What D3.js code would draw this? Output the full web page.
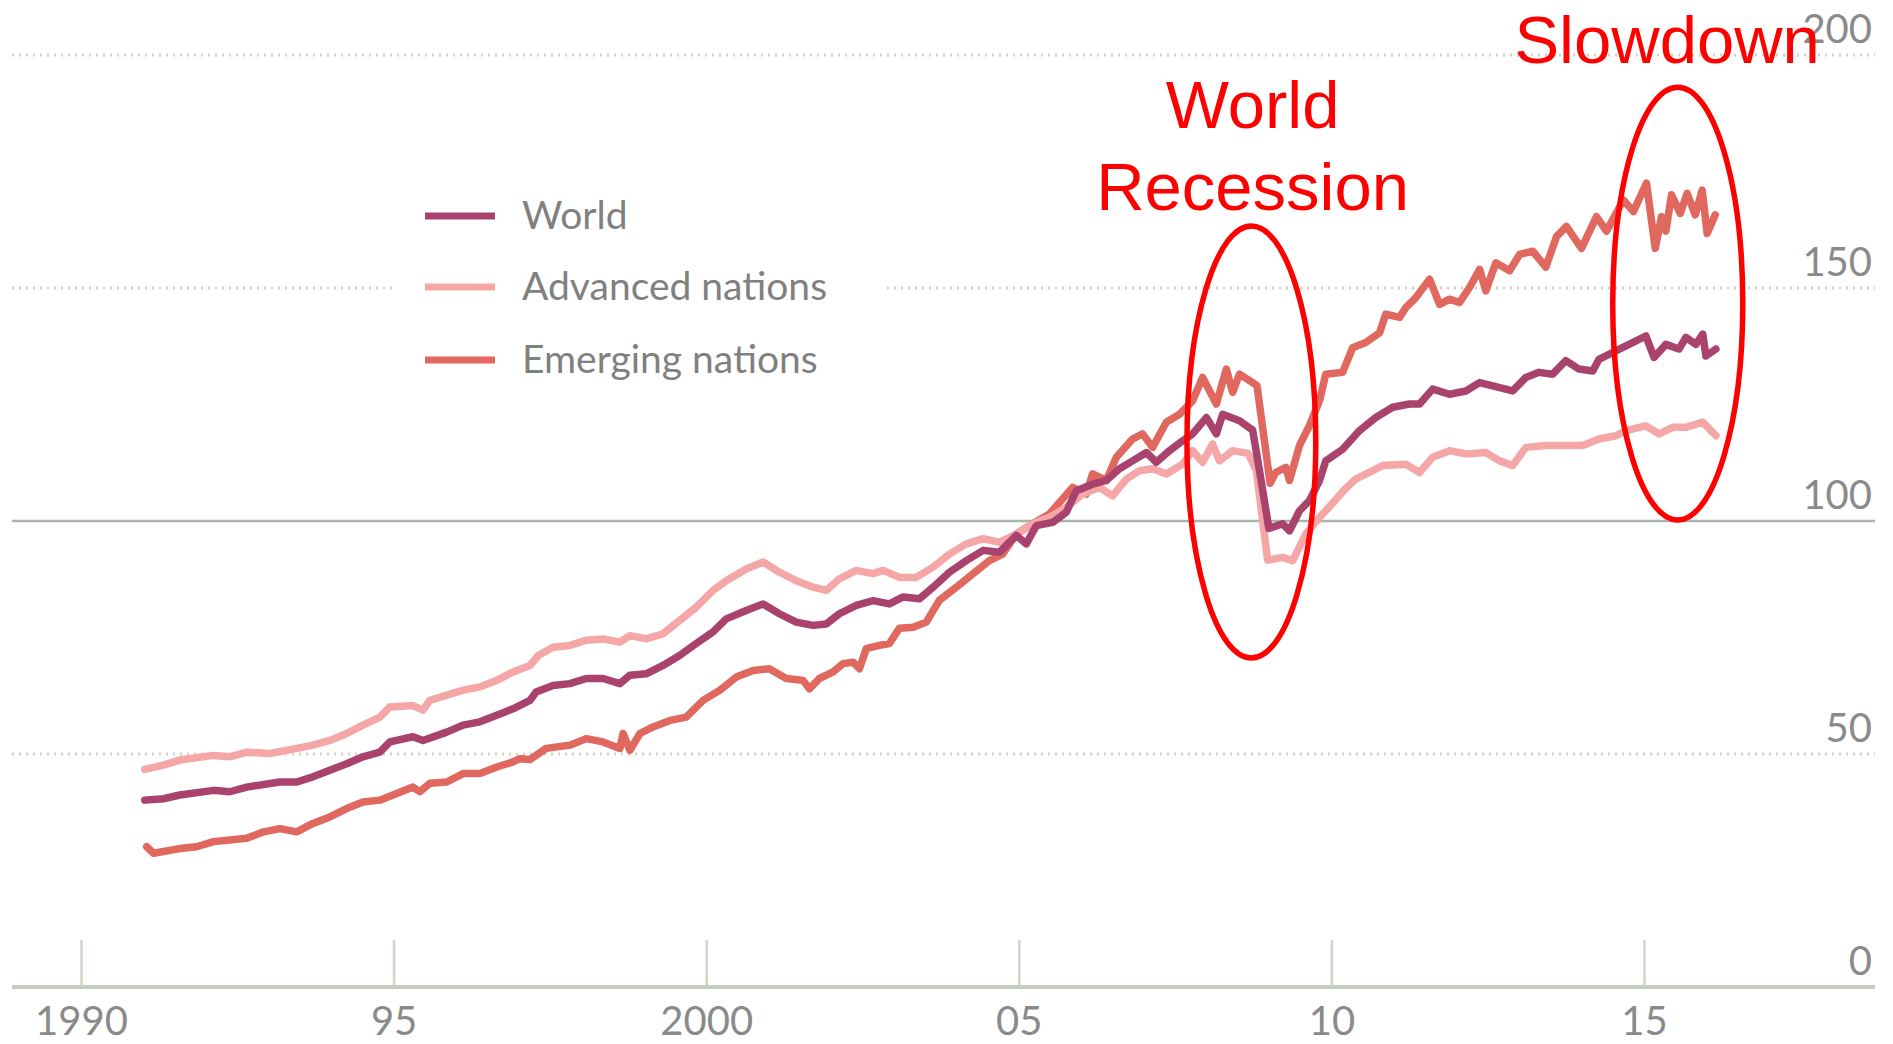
<!DOCTYPE html>
<html>
<head>
<meta charset="utf-8">
<script src="https://cdn.jsdelivr.net/npm/d3@7"></script>
<style>
  html, body { margin: 0; padding: 0; background: #ffffff; }
  svg { display: block; }
</style>
</head>
<body>
<svg id="chart" width="1893" height="1044"></svg>
<script>
// Index of trade volumes, three series, [decimal year, index value]
const world = [
  [1991.02,40.1],[1991.32,40.4],[1991.58,41.2],[1992.12,42.2],[1992.38,41.9],[1992.65,42.9],
  [1993.18,44.0],[1993.45,44.0],[1993.71,45.1],[1993.98,46.5],[1994.25,47.9],[1994.51,49.4],
  [1994.78,50.4],[1994.94,52.6],[1995.31,53.7],[1995.47,52.9],[1995.85,54.7],[1996.11,56.2],
  [1996.38,56.9],[1996.65,58.3],[1996.91,59.7],[1997.18,61.5],[1997.28,63.3],[1997.55,64.7],
  [1997.82,65.1],[1998.08,66.2],[1998.35,66.2],[1998.62,65.1],[1998.78,66.9],[1999.04,67.2],
  [1999.31,69.0],[1999.58,71.2],[1999.84,73.7],[2000.11,76.2],[2000.32,79.0],[2000.64,80.8],
  [2000.91,82.2],[2001.17,80.1],[2001.44,78.3],[2001.71,77.6],[2001.92,77.9],[2002.13,80.1],
  [2002.40,81.9],[2002.67,82.9],[2002.93,82.2],[2003.15,83.7],[2003.41,83.3],[2003.63,85.8],
  [2003.89,89.0],[2004.16,91.5],[2004.43,93.7],[2004.69,93.3],[2004.96,96.9],[2005.12,95.1],
  [2005.28,99.0],[2005.54,99.7],[2005.76,101.9],[2005.92,106.5],[2006.18,107.9],[2006.40,108.7],
  [2006.61,111.2],[2006.82,112.9],[2007.04,114.7],[2007.20,112.6],[2007.41,115.1],[2007.62,117.2],
  [2007.78,118.7],[2008.00,122.2],[2008.16,118.7],[2008.26,122.9],[2008.53,121.5],[2008.74,119.5],
  [2008.85,110.8],[2009.00,98.4],[2009.22,99.4],[2009.33,97.9],[2009.49,102.2],[2009.65,104.4],
  [2009.81,108.7],[2009.91,112.9],[2010.18,115.4],[2010.45,119.4],[2010.71,122.2],[2010.98,124.4],
  [2011.25,125.1],[2011.41,125.1],[2011.62,128.3],[2011.89,127.2],[2012.15,127.9],[2012.37,129.7],
  [2012.58,129.0],[2012.90,127.9],[2013.11,130.8],[2013.32,131.9],[2013.54,131.5],[2013.75,134.4],
  [2013.96,132.6],[2014.18,132.2],[2014.28,134.7],[2014.55,136.5],[2014.76,137.9],[2015.03,139.7],
  [2015.16,135.1],[2015.35,137.9],[2015.56,136.9],[2015.67,139.4],[2015.83,137.9],[2015.94,140.1],
  [2015.99,135.4],[2016.15,136.9]
];

const advanced = [
  [1991.02,46.7],[1991.32,47.6],[1991.58,48.7],[1992.12,49.7],[1992.38,49.4],[1992.65,50.4],
  [1993.02,50.1],[1993.45,51.2],[1993.71,51.9],[1993.98,52.9],[1994.25,54.4],[1994.51,56.2],
  [1994.78,57.9],[1994.94,60.1],[1995.31,60.4],[1995.47,59.4],[1995.58,61.5],[1996.11,63.7],
  [1996.38,64.4],[1996.65,65.8],[1996.91,67.6],[1997.18,69.0],[1997.32,71.2],[1997.55,72.9],
  [1997.82,73.3],[1998.08,74.4],[1998.35,74.7],[1998.62,74.0],[1998.78,75.4],[1999.04,74.7],
  [1999.31,75.8],[1999.58,78.7],[1999.84,81.5],[2000.11,85.1],[2000.32,87.2],[2000.64,89.7],
  [2000.91,91.2],[2001.17,89.0],[2001.44,87.2],[2001.71,85.8],[2001.92,85.1],[2002.13,87.6],
  [2002.40,89.4],[2002.67,88.7],[2002.83,89.4],[2003.09,87.9],[2003.36,87.9],[2003.63,90.1],
  [2003.89,92.9],[2004.16,95.1],[2004.43,96.2],[2004.69,95.4],[2004.96,97.2],[2005.22,99.4],
  [2005.49,100.8],[2005.76,102.9],[2006.02,105.8],[2006.29,107.2],[2006.50,105.4],[2006.72,109.0],
  [2006.93,110.8],[2007.14,111.2],[2007.36,110.1],[2007.62,112.2],[2007.78,115.1],[2007.94,112.6],
  [2008.10,116.5],[2008.21,112.9],[2008.42,115.1],[2008.67,114.5],[2008.80,110.8],[2008.90,100.1],
  [2008.98,91.6],[2009.22,92.2],[2009.38,91.5],[2009.59,97.2],[2009.81,100.8],[2010.02,103.8],
  [2010.20,106.6],[2010.39,109.0],[2010.82,111.9],[2011.19,112.2],[2011.41,110.4],[2011.62,113.7],
  [2011.89,115.1],[2012.15,114.4],[2012.47,114.7],[2012.69,112.9],[2012.90,111.9],[2013.11,115.8],
  [2013.43,116.2],[2013.75,116.2],[2014.02,116.2],[2014.28,117.6],[2014.55,118.3],[2014.71,119.4],
  [2015.03,120.4],[2015.24,118.7],[2015.46,120.1],[2015.67,120.1],[2015.94,121.2],[2016.15,118.3]
];

const emerging = [
  [1991.05,30.1],[1991.16,28.7],[1991.58,29.7],[1991.85,30.1],[1992.12,31.2],[1992.65,31.9],
  [1992.92,33.3],[1993.18,34.0],[1993.45,33.3],[1993.71,35.1],[1993.98,36.5],[1994.25,38.3],
  [1994.51,39.7],[1994.78,40.1],[1995.05,41.5],[1995.31,42.9],[1995.42,41.9],[1995.58,43.7],
  [1995.85,44.0],[1996.11,45.8],[1996.38,45.8],[1996.65,47.2],[1996.91,48.3],[1997.02,49.0],
  [1997.18,48.8],[1997.44,51.2],[1997.82,51.9],[1998.08,53.3],[1998.35,52.6],[1998.62,51.2],
  [1998.67,54.4],[1998.78,50.8],[1998.94,54.4],[1999.15,55.8],[1999.42,57.2],[1999.68,57.9],
  [1999.95,61.5],[2000.22,63.7],[2000.48,66.5],[2000.75,67.9],[2001.01,68.3],[2001.28,66.2],
  [2001.55,65.8],[2001.65,64.0],[2001.81,66.2],[2002.03,67.6],[2002.19,69.4],[2002.35,69.7],
  [2002.45,68.3],[2002.56,72.6],[2002.77,73.3],[2002.93,73.7],[2003.09,77.0],[2003.31,77.2],
  [2003.52,78.3],[2003.73,83.0],[2004.00,85.8],[2004.27,88.7],[2004.53,91.5],[2004.74,92.9],
  [2004.96,97.2],[2005.22,99.4],[2005.49,101.5],[2005.86,107.2],[2006.08,105.8],[2006.18,110.1],
  [2006.40,108.7],[2006.56,113.7],[2006.82,117.6],[2006.98,118.7],[2007.14,115.8],[2007.36,121.2],
  [2007.57,122.9],[2007.78,125.8],[2007.94,130.8],[2008.16,125.1],[2008.32,132.6],[2008.42,127.6],
  [2008.53,131.5],[2008.74,129.7],[2008.81,129.0],[2009.02,108.1],[2009.11,110.4],[2009.27,111.5],
  [2009.33,108.7],[2009.49,116.2],[2009.65,120.5],[2009.81,125.8],[2009.91,131.5],[2010.18,131.9],
  [2010.34,137.2],[2010.55,138.3],[2010.77,140.4],[2010.87,144.4],[2011.09,143.7],[2011.19,145.8],
  [2011.35,147.9],[2011.57,151.9],[2011.73,146.5],[2011.89,147.6],[2012.05,146.9],[2012.21,150.1],
  [2012.37,154.0],[2012.47,149.4],[2012.63,155.4],[2012.85,153.7],[2013.01,157.2],[2013.22,157.9],
  [2013.43,154.5],[2013.60,161.0],[2013.76,163.2],[2014.00,158.5],[2014.24,165.3],[2014.40,162.2],
  [2014.67,168.9],[2014.83,166.4],[2015.04,172.5],[2015.18,158.5],[2015.28,165.3],[2015.35,162.2],
  [2015.44,170.0],[2015.58,166.0],[2015.69,170.3],[2015.82,165.7],[2015.93,171.0],[2016.01,161.7],
  [2016.14,165.7]
];

const seriesNames = ["World", "Advanced nations", "Emerging nations"];
const seriesColors = ["#aa426e", "#f5a6a6", "#e0685f"];

const xTickYears = [1990, 1995, 2000, 2005, 2010, 2015];
const xTickLabels = ["1990", "95", "2000", "05", "10", "15"];
const yTicks = [0, 50, 100, 150, 200];

// callout text anchored in data space (centre year, baseline value of first line)
const annotations = [
  { lines: ["World", "Recession"], year: 2008.74, value: 184.3 },
  { lines: ["Slowdown"], year: 2015.37, value: 198.3 }
];
// ellipses circling the two episodes
const highlightSpans = [
  { from: 2007.69, to: 2009.75, low: 70.6, high: 163.3 },
  { from: 2014.50, to: 2016.58, low: 100.2, high: 193.1 }
];

// ---- layout ----
const svg = d3.select("#chart");
const plotLeft = 12, plotRight = 1875;
const x = d3.scaleLinear().domain([1990, 2015]).range([81, 1644]);
const y = d3.scaleLinear().domain([0, 200]).range([987, 55]);

const labelFont = "Lato, 'Open Sans', sans-serif";

// horizontal gridlines
const grid = svg.append("g");
grid.selectAll("line.grid")
  .data(yTicks.filter(v => v !== 0 && v !== 100))
  .join("line")
  .attr("x1", plotLeft).attr("x2", plotRight)
  .attr("y1", d => y(d)).attr("y2", d => y(d))
  .attr("stroke", "#d3d1c6")
  .attr("stroke-width", 3)
  .attr("stroke-dasharray", "2,5");

grid.append("line")
  .attr("x1", plotLeft).attr("x2", plotRight)
  .attr("y1", y(100)).attr("y2", y(100))
  .attr("stroke", "#a9b5a9")
  .attr("stroke-width", 2.5);

// legend backdrop interrupts the gridline behind the key
svg.append("rect")
  .attr("x", 392).attr("y", 180)
  .attr("width", 493).attr("height", 220)
  .attr("fill", "#ffffff");

// y-axis labels on the right, sitting above their gridlines
const yAxis = d3.axisRight(y).tickValues(yTicks).tickSize(0).tickPadding(0);
const yG = svg.append("g")
  .attr("transform", `translate(${1872},0)`)
  .call(yAxis);
yG.select(".domain").remove();
yG.selectAll("text")
  .attr("text-anchor", "end")
  .attr("x", 0)
  .attr("dy", "-13px")
  .attr("font-family", labelFont)
  .attr("font-size", 40)
  .attr("fill", "#8a8a8a");

// x-axis: baseline, tick marks, labels
const xAxis = d3.axisBottom(x)
  .tickValues(xTickYears)
  .tickFormat((d, i) => xTickLabels[i])
  .tickSize(0);
const xG = svg.append("g")
  .attr("transform", `translate(0,${y(0)})`)
  .call(xAxis);
xG.select(".domain").remove();
xG.selectAll("text")
  .attr("y", 48)
  .attr("dy", 0)
  .attr("font-family", labelFont)
  .attr("font-size", 40)
  .attr("fill", "#8a8a8a");
xG.selectAll(".tick").append("line")
  .attr("y1", -47).attr("y2", -2)
  .attr("stroke", "#d6d2c6")
  .attr("stroke-width", 2.5);

svg.append("line")
  .attr("x1", plotLeft).attr("x2", plotRight)
  .attr("y1", y(0)).attr("y2", y(0))
  .attr("stroke", "#c4ccc3")
  .attr("stroke-width", 4);

// series lines
const line = d3.line()
  .x(d => x(d[0]))
  .y(d => y(d[1]));

const drawOrder = [
  { data: emerging, color: seriesColors[2] },
  { data: advanced, color: seriesColors[1] },
  { data: world, color: seriesColors[0] }
];
svg.append("g").selectAll("path")
  .data(drawOrder)
  .join("path")
  .attr("d", d => line(d.data))
  .attr("fill", "none")
  .attr("stroke", d => d.color)
  .attr("stroke-width", 7.5)
  .attr("stroke-linejoin", "round")
  .attr("stroke-linecap", "round");

// legend
const legend = svg.append("g");
const legendY = [216, 287, 360];
seriesNames.forEach((name, i) => {
  legend.append("line")
    .attr("x1", 425).attr("x2", 495)
    .attr("y1", legendY[i]).attr("y2", legendY[i])
    .attr("stroke", seriesColors[i])
    .attr("stroke-width", 7);
  legend.append("text")
    .attr("x", 522).attr("y", legendY[i] + 13)
    .attr("font-family", labelFont)
    .attr("font-size", 39)
    .attr("fill", "#808080")
    .text(name);
});

// red highlight annotations
const ann = svg.append("g");
highlightSpans.forEach(s => {
  ann.append("ellipse")
    .attr("cx", (x(s.from) + x(s.to)) / 2)
    .attr("cy", (y(s.low) + y(s.high)) / 2)
    .attr("rx", (x(s.to) - x(s.from)) / 2)
    .attr("ry", (y(s.low) - y(s.high)) / 2)
    .attr("fill", "none")
    .attr("stroke", "#ff0000")
    .attr("stroke-width", 5.5);
});
annotations.forEach(a => {
  const t = ann.append("text")
    .attr("text-anchor", "middle")
    .attr("font-family", "'Liberation Sans', Arial, sans-serif")
    .attr("font-size", 67)
    .attr("fill", "#ff0000");
  a.lines.forEach((ln, i) => {
    t.append("tspan")
      .attr("x", x(a.year))
      .attr("y", y(a.value) + i * 82)
      .text(ln);
  });
});
</script>
</body>
</html>
